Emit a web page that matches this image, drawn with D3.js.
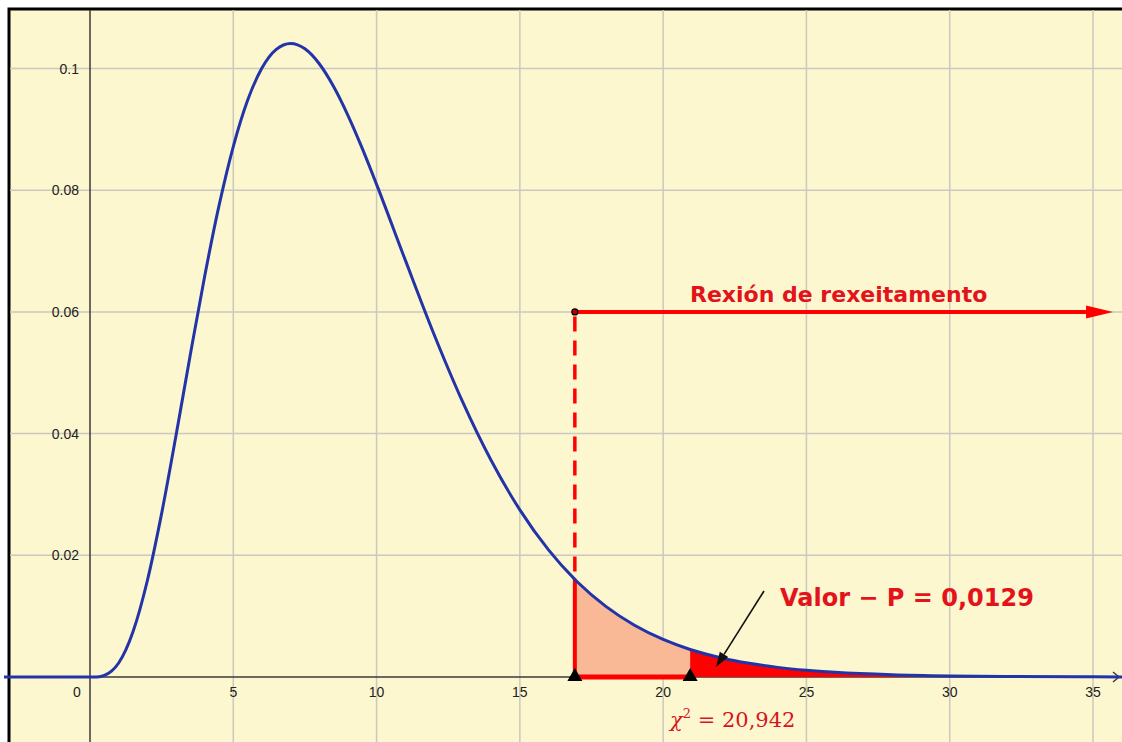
<!DOCTYPE html>
<html>
<head>
<meta charset="utf-8">
<script src="https://cdn.jsdelivr.net/npm/d3@7"></script>
<style>
  html, body { margin: 0; padding: 0; background: #ffffff; }
  svg { display: block; }
</style>
</head>
<body>
<div id="viz"></div>
<script>
// chi-square density (9 d.f.)
const curveX = [-3, -1, 0, 0.25, 0.5, 0.75, 1, 1.25, 1.5, 2, 2.5, 3, 3.5, 4, 4.5, 5, 5.5, 6, 6.5, 7, 7.5, 8, 8.5, 9, 9.5, 10, 11, 12, 13, 14, 15, 16, 16.919, 17, 18, 19, 20, 20.942, 21, 22, 23, 24, 25, 26, 28, 30, 32, 35, 36.2];
const curveY = [0, 0, 0, 0.000018, 0.000262, 0.000954, 0.002304, 0.004441, 0.007418, 0.015814, 0.026893, 0.039647, 0.05296, 0.065818, 0.077412, 0.087172, 0.094773, 0.100085, 0.103148, 0.104119, 0.103237, 0.100777, 0.097037, 0.092307, 0.086867, 0.080955, 0.068546, 0.056376, 0.045248, 0.035572, 0.027468, 0.020883, 0.016036, 0.01566, 0.011602, 0.008503, 0.006171, 0.004527, 0.00444, 0.003169, 0.002246, 0.001581, 0.001106, 0.00077, 0.000367, 0.000172, 0.000079, 0.000024, 0.000012];

const xTicks = [0, 5, 10, 15, 20, 25, 30, 35];
const yTicks = [0.02, 0.04, 0.06, 0.08, 0.1];
const yTickLabels = ["0.02", "0.04", "0.06", "0.08", "0.1"];

const criticalValue = 16.919;
const testStat = 20.942;
const regionLevel = 0.06;
const regionLabel = "Rexión de rexeitamento";
const pLabel = "Valor − P = 0,0129";
const statLabel = "20,942";

const w = 1122, h = 742;
const svg = d3.select("#viz")
  .append("svg")
  .attr("width", w)
  .attr("height", h)
  .attr("viewBox", "0 0 1122 742");

const xScale = d3.scaleLinear().domain([0, 35]).range([90, 1093]);
const yScale = d3.scaleLinear().domain([0, 0.1]).range([677, 68.5]);

const points = curveX.map((x, i) => ({ x: x, y: curveY[i] }));

// frame + background
svg.append("rect")
  .attr("x", 9).attr("y", 9)
  .attr("width", 1200).attr("height", 800)
  .attr("fill", "#fdf7cf")
  .attr("stroke", "#000")
  .attr("stroke-width", 3);

const plot = svg.append("g");

// grid
plot.selectAll(".vgrid")
  .data(xTicks.filter(d => d !== 0))
  .enter().append("line")
  .attr("x1", d => xScale(d)).attr("x2", d => xScale(d))
  .attr("y1", 10).attr("y2", h)
  .attr("stroke", "#cbc8bd").attr("stroke-width", 1.5);

plot.selectAll(".hgrid")
  .data(yTicks)
  .enter().append("line")
  .attr("x1", 10).attr("x2", w)
  .attr("y1", d => yScale(d)).attr("y2", d => yScale(d))
  .attr("stroke", "#cbc8bd").attr("stroke-width", 1.5);

// axes
plot.append("line")
  .attr("x1", xScale(0)).attr("x2", xScale(0))
  .attr("y1", 10).attr("y2", h)
  .attr("stroke", "#3a3a3a").attr("stroke-width", 1.5);
plot.append("line")
  .attr("x1", 10).attr("x2", 1118)
  .attr("y1", yScale(0)).attr("y2", yScale(0))
  .attr("stroke", "#3a3a3a").attr("stroke-width", 1.5);
plot.append("path")
  .attr("d", `M${1113},${yScale(0) - 5} L${1119},${yScale(0)} L${1113},${yScale(0) + 5}`)
  .attr("fill", "none").attr("stroke", "#3a3a3a").attr("stroke-width", 1.5);

// tick labels
plot.selectAll(".xlab")
  .data(xTicks)
  .enter().append("text")
  .attr("x", d => d === 0 ? xScale(0) - 13 : xScale(d))
  .attr("y", 697)
  .attr("text-anchor", "middle")
  .attr("font-family", "Liberation Sans, Arial, sans-serif")
  .attr("font-size", 14)
  .attr("fill", "#222")
  .text(d => d);

plot.selectAll(".ylab")
  .data(yTicks)
  .enter().append("text")
  .attr("x", 79)
  .attr("y", d => yScale(d) + 5)
  .attr("text-anchor", "end")
  .attr("font-family", "Liberation Sans, Arial, sans-serif")
  .attr("font-size", 14)
  .attr("fill", "#222")
  .text((d, i) => yTickLabels[i]);

// shaded areas
const area = d3.area()
  .x(d => xScale(d.x))
  .y0(yScale(0))
  .y1(d => yScale(d.y))
  .curve(d3.curveMonotoneX);

plot.append("path")
  .datum(points.filter(p => p.x >= criticalValue && p.x <= testStat))
  .attr("d", area)
  .attr("fill", "#f9b896");

plot.append("path")
  .datum(points.filter(p => p.x >= testStat))
  .attr("d", area)
  .attr("fill", "#ff0000");

// borders of the rejection region
const yCrit = curveY[curveX.indexOf(criticalValue)];
plot.append("line")
  .attr("x1", xScale(criticalValue)).attr("x2", xScale(criticalValue))
  .attr("y1", yScale(0)).attr("y2", yScale(yCrit))
  .attr("stroke", "#ff0000").attr("stroke-width", 4);
plot.append("line")
  .attr("x1", xScale(criticalValue)).attr("x2", xScale(testStat))
  .attr("y1", yScale(0)).attr("y2", yScale(0))
  .attr("stroke", "#ff0000").attr("stroke-width", 5);

// dashed vertical
plot.append("line")
  .attr("x1", xScale(criticalValue)).attr("x2", xScale(criticalValue))
  .attr("y1", yScale(yCrit) - 8).attr("y2", yScale(regionLevel))
  .attr("stroke", "#ff0000").attr("stroke-width", 3.5)
  .attr("stroke-dasharray", "15,9");

// horizontal arrow
const arrowEnd = 35.7;
plot.append("line")
  .attr("x1", xScale(criticalValue)).attr("x2", xScale(arrowEnd) - 20)
  .attr("y1", yScale(regionLevel)).attr("y2", yScale(regionLevel))
  .attr("stroke", "#ff0000").attr("stroke-width", 4);
plot.append("path")
  .attr("d", `M${xScale(arrowEnd)},${yScale(regionLevel)} L${xScale(arrowEnd) - 27},${yScale(regionLevel) - 6.5} L${xScale(arrowEnd) - 27},${yScale(regionLevel) + 6.5} Z`)
  .attr("fill", "#ff0000");
plot.append("circle")
  .attr("cx", xScale(criticalValue)).attr("cy", yScale(regionLevel))
  .attr("r", 3)
  .attr("fill", "#b00000").attr("stroke", "#000").attr("stroke-width", 1.2);

// density curve
const line = d3.line()
  .x(d => xScale(d.x))
  .y(d => yScale(d.y))
  .curve(d3.curveMonotoneX);
plot.append("path")
  .datum(points)
  .attr("d", line)
  .attr("fill", "none")
  .attr("stroke", "#2334a8")
  .attr("stroke-width", 3);

// triangles on axis
plot.selectAll(".tri")
  .data([criticalValue, testStat])
  .enter().append("path")
  .attr("d", d => `M${xScale(d)},${yScale(0) - 9} L${xScale(d) - 7.5},${yScale(0) + 4} L${xScale(d) + 7.5},${yScale(0) + 4} Z`)
  .attr("fill", "#000");

// labels
plot.append("text")
  .attr("x", 690).attr("y", 302)
  .attr("font-family", "DejaVu Sans, sans-serif")
  .attr("font-weight", "bold")
  .attr("font-size", 22)
  .attr("fill", "#e3121b")
  .text(regionLabel);

plot.append("text")
  .attr("x", 780).attr("y", 606)
  .attr("font-family", "DejaVu Sans, sans-serif")
  .attr("font-weight", "bold")
  .attr("font-size", 24)
  .attr("fill", "#e3121b")
  .text(pLabel);

const stat = plot.append("text")
  .attr("x", 670).attr("y", 727)
  .attr("font-family", "DejaVu Serif, serif")
  .attr("font-size", 21)
  .attr("fill", "#d8141e");
stat.append("tspan").attr("font-style", "italic").text("χ");
stat.append("tspan").attr("font-size", 13).attr("dy", -9).text("2");
stat.append("tspan").attr("dy", 9).text(" = " + statLabel);

// black pointer arrow
const p0 = [764, 591], p1 = [716, 667];
const len = Math.hypot(p1[0] - p0[0], p1[1] - p0[1]);
const ux = (p1[0] - p0[0]) / len, uy = (p1[1] - p0[1]) / len;
const bx = p1[0] - ux * 15, by = p1[1] - uy * 15;
plot.append("line")
  .attr("x1", p0[0]).attr("y1", p0[1])
  .attr("x2", bx).attr("y2", by)
  .attr("stroke", "#111").attr("stroke-width", 1.6);
plot.append("path")
  .attr("d", `M${p1[0]},${p1[1]} L${bx - uy * 5},${by + ux * 5} L${bx + uy * 5},${by - ux * 5} Z`)
  .attr("fill", "#111");
</script>
</body>
</html>
